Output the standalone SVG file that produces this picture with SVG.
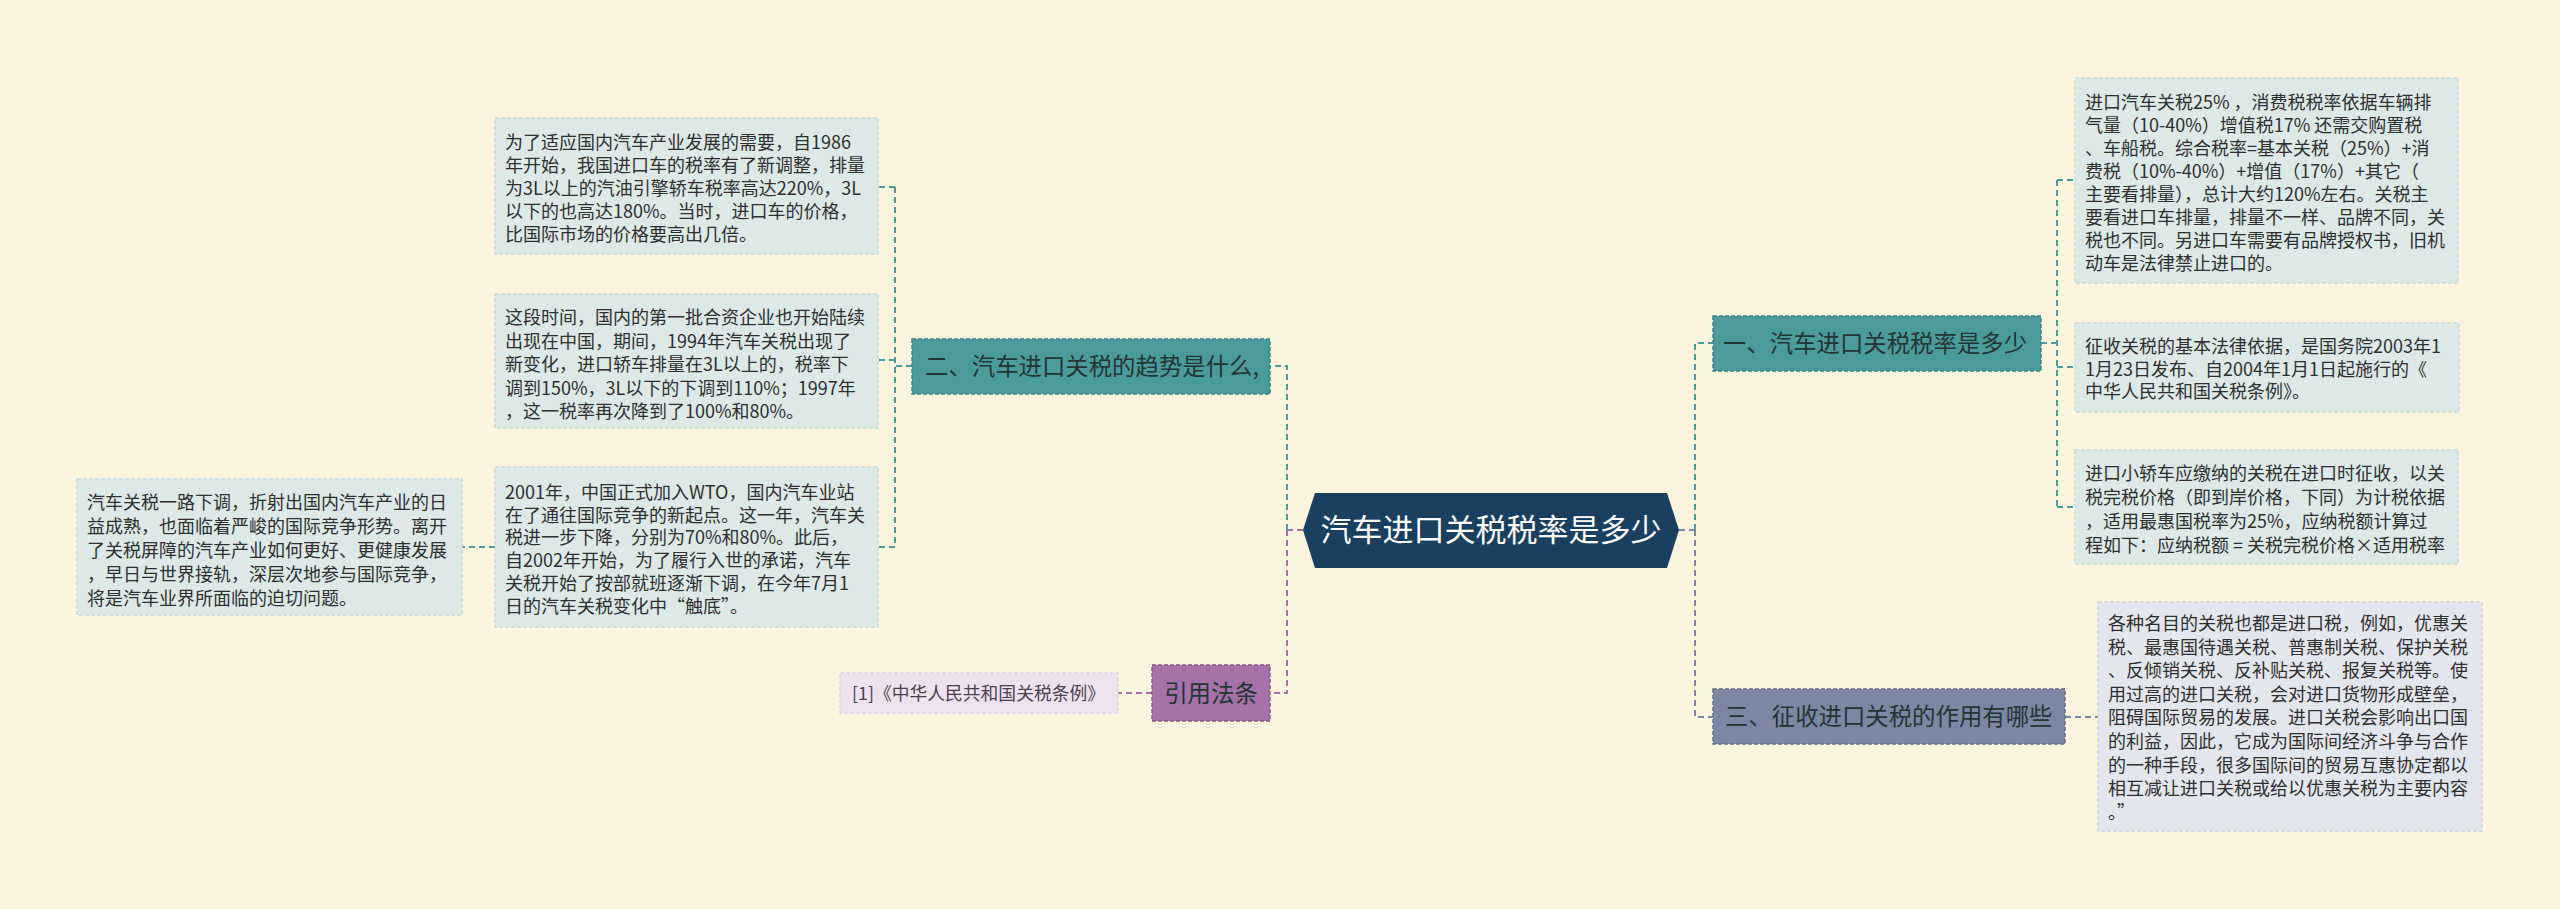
<svg xmlns="http://www.w3.org/2000/svg" width="2560" height="909" viewBox="0 0 2560 909">
<style>
text{font-family:"Noto Sans CJK SC","Noto Sans",sans-serif}
.bg{fill:#fbf5e0}
.box{fill:#dce9e7;stroke:#c9dcda;stroke-width:1.5;stroke-dasharray:4 2}
.box2{fill:#e3e6ec;stroke:#d0d4de;stroke-width:1.5;stroke-dasharray:4 2}
.ref{fill:#efe2ee;stroke:#e4d4e3;stroke-width:1.5;stroke-dasharray:4 2}
.t{font-size:18px;fill:#2f2f2f}
.tr{font-size:17.8px;fill:#4a4050}
.teal{fill:#4c9b9b;stroke:#3a8484;stroke-width:1.5;stroke-dasharray:4 2}
.purp{fill:#a571a7;stroke:#8a588c;stroke-width:1.5;stroke-dasharray:4 2}
.gray{fill:#7b87a3;stroke:#646f8a;stroke-width:1.5;stroke-dasharray:4 2}
.nt{font-size:23.4px;fill:#233535}
.c{fill:none;stroke-width:2;stroke-dasharray:6 4}
.ct{stroke:#4c9b9b}
.cp{stroke:#a571a7}
.cg{stroke:#7b87a3}
</style>
<rect class="bg" x="0" y="0" width="2560" height="909"/>

<g id="connectors">
<path class="c cp" d="M1303,530 H1287"/>
<path class="c ct" d="M1287,530 V366 H1270"/>
<path class="c cp" d="M1287,530 V693 H1270"/>
<path class="c ct" d="M912,366 H895"/>
<path class="c ct" d="M895,187 V547"/>
<path class="c ct" d="M895,187 H878"/>
<path class="c ct" d="M895,360 H878"/>
<path class="c ct" d="M895,547 H878"/>
<path class="c ct" d="M495,547 H462"/>
<path class="c cp" d="M1152,693 H1118"/>
<path class="c cg" d="M1679,530 H1695"/>
<path class="c ct" d="M1695,530 V343 H1713"/>
<path class="c cg" d="M1695,530 V717 H1713"/>
<path class="c ct" d="M2041,343 H2057"/>
<path class="c ct" d="M2057,180 V507"/>
<path class="c ct" d="M2057,180 H2075"/>
<path class="c ct" d="M2057,367 H2075"/>
<path class="c ct" d="M2057,507 H2075"/>
<path class="c cg" d="M2065,717 H2098"/>
</g>

<g id="root">
<polygon points="1303,530 1315,493 1667,493 1679,530 1667,568 1315,568" fill="#1a3f5f"/>
<text x="1491" y="541" font-size="31" fill="#ffffff" text-anchor="middle">汽车进口关税税率是多少</text>
</g>

<g id="branch2">
<rect class="teal" x="912" y="339" width="358" height="55"/>
<text class="nt" x="925" y="374.5">二、汽车进口关税的趋势是什么,</text>
</g>

<g id="b2c1">
<rect class="box" x="495" y="118" width="383" height="136"/>
<text class="t" x="505" y="149">
<tspan x="505">为了适应国内汽车产业发展的需要，自1986</tspan>
<tspan x="505" dy="23">年开始，我国进口车的税率有了新调整，排量</tspan>
<tspan x="505" dy="23">为3L以上的汽油引擎轿车税率高达220%，3L</tspan>
<tspan x="505" dy="23">以下的也高达180%。当时，进口车的价格，</tspan>
<tspan x="505" dy="23">比国际市场的价格要高出几倍。</tspan>
</text>
</g>

<g id="b2c2">
<rect class="box" x="495" y="294" width="383" height="134"/>
<text class="t" x="505" y="324">
<tspan x="505">这段时间，国内的第一批合资企业也开始陆续</tspan>
<tspan x="505" dy="23.5">出现在中国，期间，1994年汽车关税出现了</tspan>
<tspan x="505" dy="23.5">新变化，进口轿车排量在3L以上的，税率下</tspan>
<tspan x="505" dy="23.5">调到150%，3L以下的下调到110%；1997年</tspan>
<tspan x="505" dy="23.5">，这一税率再次降到了100%和80%。</tspan>
</text>
</g>

<g id="b2c3">
<rect class="box" x="495" y="467" width="383" height="160"/>
<text class="t" x="505" y="499">
<tspan x="505">2001年，中国正式加入WTO，国内汽车业站</tspan>
<tspan x="505" dy="22.7">在了通往国际竞争的新起点。这一年，汽车关</tspan>
<tspan x="505" dy="22.7">税进一步下降，分别为70%和80%。此后，</tspan>
<tspan x="505" dy="22.7">自2002年开始，为了履行入世的承诺，汽车</tspan>
<tspan x="505" dy="22.7">关税开始了按部就班逐渐下调，在今年7月1</tspan>
<tspan x="505" dy="22.7">日的汽车关税变化中“触底”。</tspan>
</text>
</g>

<g id="b2c3c1">
<rect class="box" x="77" y="479" width="385" height="136"/>
<text class="t" x="87" y="509">
<tspan x="87">汽车关税一路下调，折射出国内汽车产业的日</tspan>
<tspan x="87" dy="24">益成熟，也面临着严峻的国际竞争形势。离开</tspan>
<tspan x="87" dy="24">了关税屏障的汽车产业如何更好、更健康发展</tspan>
<tspan x="87" dy="24">，早日与世界接轨，深层次地参与国际竞争，</tspan>
<tspan x="87" dy="24">将是汽车业界所面临的迫切问题。</tspan>
</text>
</g>

<g id="branch-ref">
<rect class="purp" x="1152" y="665" width="118" height="56"/>
<text class="nt" x="1211" y="701.5" text-anchor="middle" fill="#2e2230">引用法条</text>
</g>

<g id="ref1">
<rect class="ref" x="840" y="673" width="278" height="40"/>
<text class="tr" x="852" y="699.5">[1]《中华人民共和国关税条例》</text>
</g>

<g id="branch1">
<rect class="teal" x="1713" y="316" width="328" height="55"/>
<text class="nt" x="1723" y="351.5">一、汽车进口关税税率是多少</text>
</g>

<g id="b1c1">
<rect class="box" x="2075" y="78" width="383" height="205"/>
<text class="t" x="2085" y="109">
<tspan x="2085">进口汽车关税25% ，消费税税率依据车辆排</tspan>
<tspan x="2085" dy="23">气量（10-40%）增值税17% 还需交购置税</tspan>
<tspan x="2085" dy="23">、车船税。综合税率=基本关税（25%）+消</tspan>
<tspan x="2085" dy="23">费税（10%-40%）+增值（17%）+其它（</tspan>
<tspan x="2085" dy="23">主要看排量），总计大约120%左右。关税主</tspan>
<tspan x="2085" dy="23">要看进口车排量，排量不一样、品牌不同，关</tspan>
<tspan x="2085" dy="23">税也不同。另进口车需要有品牌授权书，旧机</tspan>
<tspan x="2085" dy="23">动车是法律禁止进口的。</tspan>
</text>
</g>

<g id="b1c2">
<rect class="box" x="2075" y="323" width="384" height="89"/>
<text class="t" x="2085" y="353">
<tspan x="2085">征收关税的基本法律依据，是国务院2003年1</tspan>
<tspan x="2085" dy="22.5">1月23日发布、自2004年1月1日起施行的《</tspan>
<tspan x="2085" dy="22.5">中华人民共和国关税条例》。</tspan>
</text>
</g>

<g id="b1c3">
<rect class="box" x="2075" y="450" width="383" height="114"/>
<text class="t" x="2085" y="480">
<tspan x="2085">进口小轿车应缴纳的关税在进口时征收，以关</tspan>
<tspan x="2085" dy="24">税完税价格（即到岸价格，下同）为计税依据</tspan>
<tspan x="2085" dy="24">，适用最惠国税率为25%，应纳税额计算过</tspan>
<tspan x="2085" dy="24">程如下：应纳税额 = 关税完税价格×适用税率</tspan>
</text>
</g>

<g id="branch3">
<rect class="gray" x="1713" y="689" width="352" height="55"/>
<text class="nt" x="1725" y="725" fill="#252a38">三、征收进口关税的作用有哪些</text>
</g>

<g id="b3c1">
<rect class="box2" x="2098" y="602" width="384" height="229"/>
<text class="t" x="2108" y="630">
<tspan x="2108">各种名目的关税也都是进口税，例如，优惠关</tspan>
<tspan x="2108" dy="23.6">税、最惠国待遇关税、普惠制关税、保护关税</tspan>
<tspan x="2108" dy="23.6">、反倾销关税、反补贴关税、报复关税等。使</tspan>
<tspan x="2108" dy="23.6">用过高的进口关税，会对进口货物形成壁垒，</tspan>
<tspan x="2108" dy="23.6">阻碍国际贸易的发展。进口关税会影响出口国</tspan>
<tspan x="2108" dy="23.6">的利益，因此，它成为国际间经济斗争与合作</tspan>
<tspan x="2108" dy="23.6">的一种手段，很多国际间的贸易互惠协定都以</tspan>
<tspan x="2108" dy="23.6">相互减让进口关税或给以优惠关税为主要内容</tspan>
<tspan x="2108" dy="23.6">。”</tspan>
</text>
</g>
</svg>
